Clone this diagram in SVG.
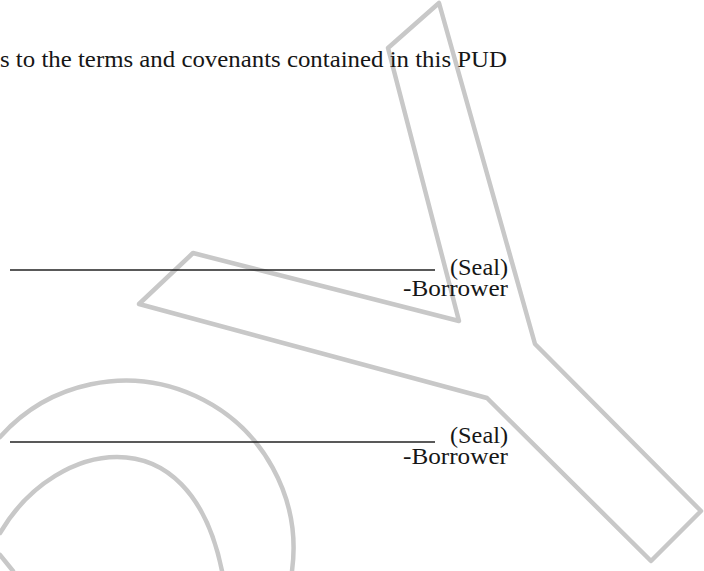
<svg xmlns="http://www.w3.org/2000/svg" width="704" height="571" viewBox="0 0 704 571">
<style>
.wm{fill:none;stroke:#c8c8c8;stroke-width:4.5;stroke-linejoin:round;stroke-linecap:round}
.t{font-family:"Liberation Serif","Times New Roman",serif;font-size:23px;fill:#161616}
.ul{stroke:#222;stroke-width:1.3}
</style>
<rect width="704" height="571" fill="#fff"/>
<g id="watermark">
<path class="wm" d="M439,3 L535,344 L701,511 L651,561 L487,398 L139,304 L193,253 L459,321 L388,48 Z"/>
<path class="wm" d="M0,437 A168,168 0 0 1 292,571"/>
<path class="wm" d="M0,533 C30,482 78,457 117,457 C165,457 206,492 222,571"/>
<path class="wm" d="M0,555 L13,571"/>
</g>
<g id="text">
<text class="t" x="0" y="67" textLength="507" lengthAdjust="spacingAndGlyphs">s to the terms and covenants contained in this PUD</text>
<g id="sig1">
<line class="ul" x1="10" y1="270" x2="435" y2="270"/>
<text class="t" x="450" y="275" textLength="58" lengthAdjust="spacingAndGlyphs">(Seal)</text>
<text class="t" x="403" y="296" textLength="105" lengthAdjust="spacingAndGlyphs">-Borrower</text>
</g>
<g id="sig2">
<line class="ul" x1="10" y1="442" x2="435" y2="442"/>
<text class="t" x="450" y="443" textLength="58" lengthAdjust="spacingAndGlyphs">(Seal)</text>
<text class="t" x="403" y="464" textLength="105" lengthAdjust="spacingAndGlyphs">-Borrower</text>
</g>
</g>
</svg>
